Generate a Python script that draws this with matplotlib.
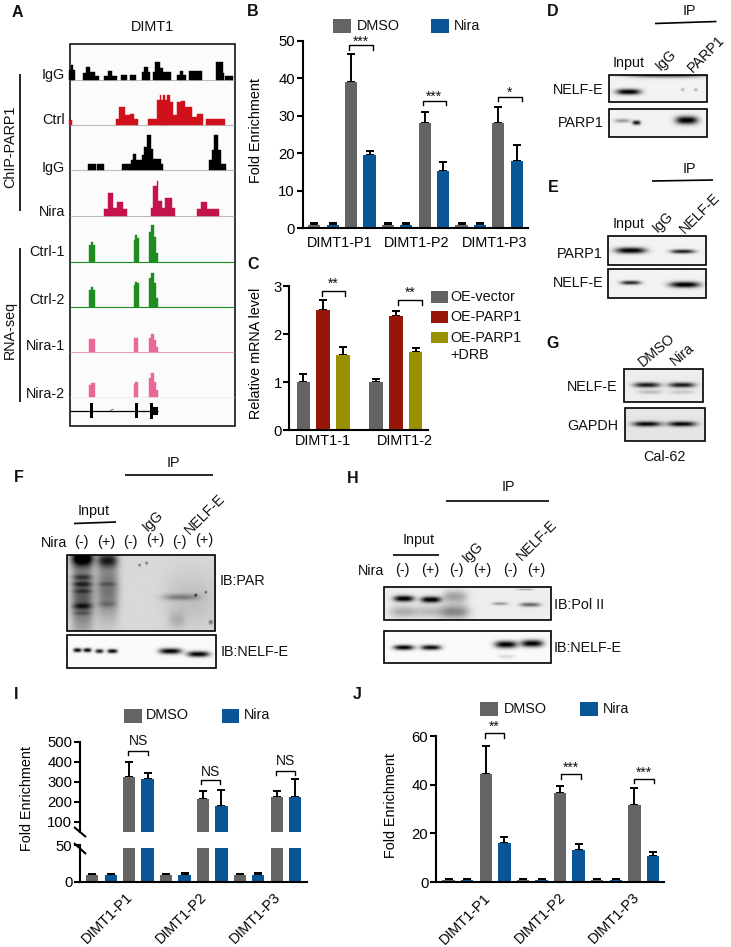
import numpy as np
import matplotlib
matplotlib.use("Agg")
import matplotlib.pyplot as plt
from matplotlib.patches import Rectangle

plt.rcParams['font.family'] = ['Liberation Sans', 'DejaVu Sans']
W, H = 731, 947
GRAY, BLUE, RED, OLIVE = '#646464', '#0a5596', '#98150a', '#999000'
FS = 10.4

# ---------- panel data ----------
B_values = [1, 1, 39, 19.5, 1, 1, 28, 15.2, 1, 1, 28, 18]
B_tops = [1.3, 1.3, 46.5, 20.5, 1.3, 1.3, 31, 17.8, 1.3, 1.5, 32.3, 22.2]
C_values = [1, 2.49, 1.57, 1, 2.37, 1.63]
C_tops = [1.16, 2.71, 1.72, 1.07, 2.48, 1.70]
I_values = [9, 9, 322, 313, 9, 9, 212, 178, 9, 9, 225, 225]
I_tops = [10.5, 10.5, 400, 342, 11, 12, 255, 258, 10.5, 12, 255, 312]
J_values = [1, 1, 44.5, 16.2, 1, 1, 36.5, 13.3, 1, 1, 31.5, 10.7]
J_tops = [1.3, 1.3, 56, 18.3, 1.3, 1.3, 39.3, 15.7, 1.1, 1.4, 38.8, 12.4]
P_labels = ['DIMT1-P1', 'DIMT1-P2', 'DIMT1-P3']
C_labels = ['DIMT1-1', 'DIMT1-2']

# genome tracks: (start, end, height)
track_igg1 = [(208,224,30),(212,218,45),(250,258,20),(258,270,40),(270,285,25),(285,298,12),(313,325,12),(325,335,28),
              (335,350,12),(362,382,14),(390,408,14),(425,432,25),(432,445,40),(445,450,25),(458,465,25),(465,480,55),
              (480,490,35),(490,512,25),(532,540,15),(540,550,28),(550,558,15),(567,605,27),(648,668,55),(668,672,20),(675,698,12)]
track_ctrl = [(208,215,15),(348,358,20),(358,375,55),(375,390,30),(390,403,35),(403,415,18),(443,470,18),(470,480,75),
              (480,484,92),(484,490,75),(490,496,92),(496,500,75),(500,510,92),(510,518,70),(518,532,30),(532,542,70),
              (542,555,72),(555,575,55),(575,590,25),(590,610,35),(618,675,18)]
track_igg2 = [(265,287,18),(290,313,18),(365,392,18),(392,398,32),(398,408,50),(408,425,32),(425,432,45),(432,440,70),
              (440,452,105),(452,460,65),(460,482,33),(482,490,18),(628,635,30),(635,642,60),(642,655,105),(655,662,60),(662,678,18)]
track_nira = [(313,323,22),(323,338,68),(338,350,25),(350,370,42),(370,382,22),(453,458,25),(458,470,90),(470,474,105),
              (474,486,45),(486,495,25),(495,515,55),(515,525,25),(592,602,22),(602,622,42),(622,658,22)]
rna_ctrl1 = [(268,272,50),(272,280,60),(280,284,50),(402,406,65),(406,412,80),(412,416,70),(447,452,90),(452,462,110),(462,468,75),(468,475,25)]
rna_ctrl2 = [(268,272,50),(272,280,60),(280,284,50),(402,406,65),(406,412,75),(412,416,70),(447,452,85),(452,462,100),(462,468,70),(468,475,25)]
rna_nira1 = [(268,284,38),(402,415,42),(447,452,40),(452,462,52),(462,468,35),(468,475,15)]
rna_nira2 = [(268,272,35),(272,284,42),(402,406,38),(406,415,45),(447,452,55),(452,462,70),(462,468,45),(468,475,20)]

# blots: (centre x, centre y, half width, half height, strength) in picture pixels
blot_D1 = [(628,91.7,12,2.8,1.0),(665,74,40,3,.85),(682,89.5,1.6,1.4,.3),(695,89.5,1.6,1.4,.3)]
blot_D2 = [(622,121,8,2,.35),(636,123,4,2.2,.9),(686,120.5,11,4,1.0)]
blot_E1 = [(630,250.5,15,3,1.0),(682,251.5,12,2,.85)]
blot_E2 = [(630,283,10,2,.8),(684,285,15,3,1.0)]
blot_G1 = [(647,385,13,2.5,.85),(682,385,13,2.5,.85),(650,392,12,2,.2),(682,392,12,2,.15)]
blot_G2 = [(647,424,14,2.5,.9),(682,424,14,2.5,.9)]
blot_F1 = [(82,558,11,8,.9),(82,595,11,36,.5),(82,577,10,2.5,.28),(82,584,10,2.5,.3),(82,591,10,2,.2),(82,606,10,3,.35),(82,613,10,2,.15),
           (107,560,10,7,.6),(107,588,11,30,.4),(107,584,9,2,.15),(107,604,9,3,.15),(190,600,25,28,.1),(180,597,18,3,.28),
           (176,620,8,8,.12),(210,622,2,2,.4),(195,595,1.3,1.3,.6),(146,563,1.3,1.3,.5),(139,565,1.2,1.2,.5),(205,592,1.2,1.2,.5)]
blot_F2 = [(77,650,4,2,1.0),(87,650,4,2,1.0),(99,651,4,2,.9),(112,651,5,2,1.0),(170,651,11,2.8,1.0),(198,654,11,2.8,1.0)]
blot_H1 = [(404,599,10,3,1.0),(431,600,10,3,1.0),(404,612,14,6,.25),(431,612,14,6,.2),(455,597,12,6,.3),(455,612,14,7,.4),
           (500,604,8,1.4,.35),(530,605,10,2,.55),(525,590,8,.8,.3)]
blot_H2 = [(404,648,10,2.5,1.0),(431,648,10,2.5,.95),(506,645,11,3.5,1.0),(532,644,11,3.5,1.0),(506,657,8,2,.12)]

# ---------- layout helpers ----------
fig = plt.figure(figsize=(W/100, H/100), dpi=100, facecolor='white')
ov = fig.add_axes([0, 0, 1, 1], zorder=10)
ov.set_xlim(0, W); ov.set_ylim(H, 0); ov.axis('off'); ov.patch.set_alpha(0)

def axpx(x0, ytop, x1, ybot):
    ax = fig.add_axes([x0/W, 1-ybot/H, (x1-x0)/W, (ybot-ytop)/H])
    ax.patch.set_alpha(0)
    for s in ['top', 'right']:
        ax.spines[s].set_visible(False)
    for s in ['left', 'bottom']:
        ax.spines[s].set_linewidth(1.5)
    ax.tick_params(axis='y', width=1.5, length=4, labelsize=FS+.3, pad=1.5)
    ax.tick_params(axis='x', length=0, labelsize=FS, pad=5.5)
    return ax

def bars(ax, xs, vals, tops, cols, w):
    vals, tops = np.array(vals, float), np.array(tops, float)
    ax.errorbar(xs, vals, yerr=[0*vals, tops-vals], fmt='none', ecolor='black', elinewidth=1.4, capsize=3, capthick=1.4, zorder=1)
    ax.bar(xs, vals, width=w, color=cols, zorder=2)

def t(x, y, s, ha='center', va='center', fs=FS, rot=0, **k):
    ov.text(x, y, s, ha=ha, va=va, fontsize=fs, rotation=rot, rotation_mode='anchor' if rot else 'default', color='#111111', **k)

def line(x0, y0, x1, y1, lw=1.2, c='black'):
    ov.plot([x0, x1], [y0, y1], color=c, lw=lw, solid_capstyle='butt')

def rect(x0, y0, x1, y1, c):
    ov.add_patch(Rectangle((x0, y0), x1-x0, y1-y0, color=c, lw=0))

def bracket(x0, x1, ytop, ybot, label, ylab, fs=10):
    ov.plot([x0, x0, x1, x1], [ybot, ytop, ytop, ybot], color='black', lw=1.0)
    t((x0+x1)/2, ylab, label, fs=fs)

def ylabel(ax, s, x, y):
    ax.set_ylabel(s, fontsize=FS)
    ax.yaxis.set_label_coords(x, y, transform=ov.transData)

def blot(x0, y0, x1, y1, bands, bg=.95):
    xx, yy = np.meshgrid(np.linspace(x0, x1, int((x1-x0)*3)), np.linspace(y0, y1, int((y1-y0)*3)))
    img = np.full(xx.shape, bg)
    for cx, cy, wx, wy, a in bands:
        img -= a*np.exp(-np.abs((xx-cx)/wx)**3 - ((yy-cy)/wy)**2)
    ov.imshow(np.clip(img, 0, 1), extent=(x0, x1, y1, y0), cmap='gray', vmin=0, vmax=1, aspect='auto', interpolation='bilinear', zorder=1)
    ov.add_patch(Rectangle((x0, y0), x1-x0, y1-y0, fill=False, ec='black', lw=1.2, zorder=3))

def track(data, base, col, basecol):
    line(70, base/3, 234, base/3, lw=.8, c=basecol)
    for a, b, h in data:
        ov.fill_between([a/3, b/3], [base/3]*2, [(base-h)/3]*2, color=col, lw=0.3, zorder=2)

# ---------- panel B ----------
x0B, dxB = 314.3, 18.4
axB = axpx(302.5, 40.7, 528, 228.3)
axB.set_xlim((302.5-x0B)/dxB, (528-x0B)/dxB); axB.set_ylim(0, 50)
cols4 = [GRAY, BLUE]*6
bars(axB, np.arange(12), B_values, B_tops, cols4, .67)
axB.set_yticks(range(0, 51, 10))
axB.set_xticks([(p-x0B)/dxB for p in (339.5, 417, 495)]); axB.set_xticklabels(P_labels)
ylabel(axB, 'Fold Enrichment', 263, 130)
rect(333.3, 19.3, 350.7, 33.3, GRAY); t(356.7, 26, 'DMSO', ha='left')
rect(430.7, 19.3, 448.7, 33.3, BLUE); t(454, 26, 'Nira', ha='left')
bracket(349.3, 372.7, 45, 50, '***', 41.5)
bracket(422.7, 446, 100.7, 105, '***', 97)
bracket(498.3, 521.7, 96.7, 100.7, '*', 92.5)

# ---------- panel C ----------
xC = np.array([303.3, 323, 343, 376, 396, 415.7])
axC = axpx(289.3, 286, 428, 430)
axC.set_xlim(289.3, 428); axC.set_ylim(0, 3)
bars(axC, xC, C_values, C_tops, [GRAY, RED, OLIVE]*2, 13.3)
axC.set_yticks(range(4))
axC.set_xticks([323, 405]); axC.set_xticklabels(C_labels)
axC.tick_params(axis='x', pad=3)
ylabel(axC, 'Relative mRNA level', 263, 353)
rect(430.7, 290.7, 448.3, 302.7, GRAY); t(450, 297, 'OE-vector', ha='left')
rect(430.7, 310.7, 448.3, 322.7, RED); t(450, 317, 'OE-PARP1', ha='left')
rect(430.7, 331.7, 448.3, 343.3, OLIVE); t(450, 338, 'OE-PARP1', ha='left'); t(450, 355, '+DRB', ha='left')
bracket(322, 345.3, 291, 296, '**', 283.5)
bracket(397.7, 422.3, 300, 305, '**', 293)

# ---------- panel I (broken axis) ----------
x0I, dxI = 92.3, 18.44
iu = axpx(80, 741.7, 306.7, 831.7)
il = axpx(80, 845, 306.7, 881.7)
for a in (iu, il):
    a.set_xlim((80-x0I)/dxI, (306.7-x0I)/dxI)
    bars(a, np.arange(12), I_values, I_tops, cols4, .67)
iu.set_ylim(50, 500); iu.set_yticks(range(100, 501, 100))
iu.spines['bottom'].set_visible(False); iu.set_xticks([])
il.set_ylim(0, 50); il.set_yticks([0, 50])
il.set_xticks([(p-x0I)/dxI for p in (126, 199, 273)])
il.set_xticklabels(P_labels, rotation=45, ha='right', rotation_mode='anchor')
il.tick_params(axis='x', pad=6)
rect(88, 844, 306, 848, 'white')
line(74, 827, 86, 837, lw=1.5); line(74, 843, 86, 854, lw=1.5)
ylabel(il, 'Fold Enrichment', 34, 798)
rect(124, 708.7, 141.7, 723.3, GRAY); t(146, 715, 'DMSO', ha='left')
rect(221.7, 708.7, 239.3, 723.3, BLUE); t(244, 715, 'Nira', ha='left')
bracket(128.3, 147.7, 750.7, 755.3, 'NS', 741)
bracket(200.7, 220, 780, 784.3, 'NS', 772)
bracket(275.7, 295, 770.7, 775, 'NS', 761)

# ---------- panel J ----------
x0J, dxJ = 448.7, 18.56
axJ = axpx(436, 736, 664, 882)
axJ.set_xlim((436-x0J)/dxJ, (664-x0J)/dxJ); axJ.set_ylim(0, 60)
bars(axJ, np.arange(12), J_values, J_tops, cols4, .67)
axJ.set_yticks([0, 20, 40, 60])
axJ.set_xticks([(p-x0J)/dxJ for p in (484, 558, 632)])
axJ.set_xticklabels(P_labels, rotation=45, ha='right', rotation_mode='anchor')
axJ.tick_params(axis='x', pad=6)
ylabel(axJ, 'Fold Enrichment', 398, 805)
rect(480, 701.7, 498.3, 716, GRAY); t(503.7, 709, 'DMSO', ha='left')
rect(580, 701.7, 597.7, 716, BLUE); t(603, 709, 'Nira', ha='left')
bracket(485, 504.3, 733.3, 737.7, '**', 727)
bracket(561.3, 580.7, 774.3, 778.7, '***', 768)
bracket(634.3, 653.7, 778.7, 782.7, '***', 773)

# ---------- panel A ----------
ov.add_patch(Rectangle((70, 43.5), 165, 382, facecolor='#fbfbfb', ec='black', lw=1.1, zorder=1))
track(track_igg1, 240, 'black', '#bbbbbb')
track(track_ctrl, 376, '#d0101a', '#bbbbbb')
track(track_igg2, 511, 'black', '#bbbbbb')
track(track_nira, 648, '#c4124a', '#bbbbbb')
track(rna_ctrl1, 785, '#1f8c1f', '#1f8c1f')
track(rna_ctrl2, 920, '#1f8c1f', '#1f8c1f')
track(rna_nira1, 1055, '#e8689a', '#e8a0bd')
track(rna_nira2, 1190, '#e8689a', '#eeeeee')
line(70, 411, 158, 411, lw=.9)
rect(89.5, 403, 93, 418, 'black'); rect(135, 403, 137.5, 418, 'black'); rect(150, 403, 153, 419, 'black'); rect(153, 407, 158, 415, 'black')
t(112, 411, '<', fs=5)
for y, s in zip((75, 120, 168, 212, 252, 300, 346, 394), ('IgG', 'Ctrl', 'IgG', 'Nira', 'Ctrl-1', 'Ctrl-2', 'Nira-1', 'Nira-2')):
    t(65, y, s, ha='right')
t(10, 147, 'ChIP-PARP1', rot=90); t(10, 330, 'RNA-seq', rot=90)
line(20, 74, 20, 211); line(20, 248, 20, 402)
t(153, 27, 'DIMT1')

# ---------- panels D, E, G ----------
blot(608.7, 75, 707, 101.7, blot_D1); blot(608.7, 109.3, 707, 137.3, blot_D2)
t(689, 11, 'IP'); line(655, 23.5, 716.5, 21.5)
t(629, 63, 'Input'); t(658, 68, 'IgG', ha='left', rot=45); t(690, 70, 'PARP1', ha='left', rot=45)
t(604, 90, 'NELF-E', ha='right'); t(604, 123, 'PARP1', ha='right')

blot(607.5, 236, 706, 265, blot_E1); blot(607.5, 269.3, 706, 298.3, blot_E2)
t(689, 169, 'IP'); line(652, 181, 713, 180)
t(629, 224, 'Input'); t(655, 230, 'IgG', ha='left', rot=45); t(682, 231, 'NELF-E', ha='left', rot=45)
t(603, 254, 'PARP1', ha='right'); t(603, 283, 'NELF-E', ha='right')

blot(624, 369.3, 703, 401.7, blot_G1, bg=.93); blot(625, 408.3, 705, 440.7, blot_G2, bg=.9)
t(640, 364, 'DMSO', ha='left', rot=40); t(672, 363, 'Nira', ha='left', rot=40)
t(618, 387, 'NELF-E', ha='right'); t(618, 426, 'GAPDH', ha='right'); t(664, 457, 'Cal-62')

# ---------- panel F ----------
blot(66.7, 555, 215, 630.7, blot_F1, bg=.85); blot(66.7, 635, 215.5, 667.7, blot_F2, bg=.98)
t(173, 463, 'IP'); line(125, 475, 213, 475)
t(94, 511, 'Input'); line(74, 523.5, 116, 522)
t(54, 543, 'Nira')
for x, y, s in zip((81, 106, 130, 155, 179, 204), (542, 542, 542, 540, 542, 540), ('(-)', '(+)', '(-)', '(+)', '(-)', '(+)')):
    t(x, y, s)
t(145, 529, 'IgG', ha='left', rot=45); t(187, 532, 'NELF-E', ha='left', rot=45)
t(220, 581, 'IB:PAR', ha='left'); t(221, 652, 'IB:NELF-E', ha='left')

# ---------- panel H ----------
blot(384.3, 586.7, 550.7, 620, blot_H1, bg=.93); blot(384.3, 630.7, 550.7, 663.3, blot_H2, bg=.98)
t(508, 487, 'IP'); line(445.7, 501, 549, 501)
t(418.3, 540, 'Input'); line(393, 555, 439, 555)
t(371, 571, 'Nira')
for x, s in zip((402, 430, 456, 482, 510, 536), ('(-)', '(+)', '(-)', '(+)', '(-)', '(+)')):
    t(x, 570, s)
t(465, 560, 'IgG', ha='left', rot=45); t(519, 558, 'NELF-E', ha='left', rot=45)
t(554, 605, 'IB:Pol II', ha='left'); t(554, 648, 'IB:NELF-E', ha='left')

# ---------- panel letters ----------
for x, y, s in [(17, 12, 'A'), (253, 11, 'B'), (253, 264, 'C'), (553, 11, 'D'), (553, 187, 'E'), (553, 343, 'G'),
                (19, 477, 'F'), (353, 478, 'H'), (16, 694, 'I'), (357, 694, 'J')]:
    t(x, y, s, fs=11.5, fontweight='bold')

ov.set_xlim(0, W); ov.set_ylim(H, 0)
fig.savefig('out.png', dpi=100)
